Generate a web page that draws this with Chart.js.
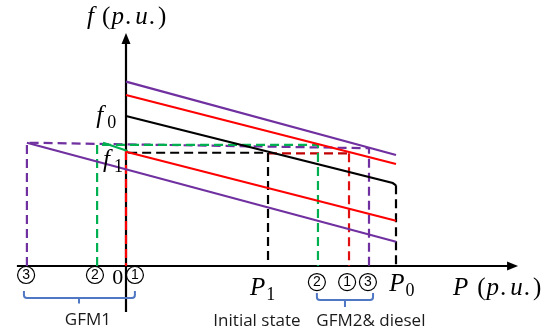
<!DOCTYPE html>
<html>
<head>
<meta charset="utf-8">
<script src="https://cdn.jsdelivr.net/npm/chart.js@4.4.0/dist/chart.umd.min.js"></script>
<style>
  html, body { margin: 0; padding: 0; background: #fff; }
  canvas { display: block; }
</style>
</head>
<body>
<canvas id="c" width="554" height="335"></canvas>
<script>
// ---- Data (P in p.u. of P0, f in p.u. of f0) ----
const droopP          = [0, 1.0];
const upperPurpleF    = [1.229, 0.740];
const upperRedF       = [1.140, 0.680];
const blackP          = [0, 0.988, 1.0];
const blackF          = [1.000, 0.553, 0.538];
const lowerRedF       = [0.762, 0.302];
const lowerPurpleP    = [-0.367, 1.0];
const lowerPurpleF    = [0.822, 0.162];
const greenSolidP     = [-0.085, 0.006];
const greenSolidF     = [0.822, 0.767];

const purpleDashP     = [-0.367, -0.367, 0.900, 0.900];
const purpleDashF     = [0, 0.822, 0.785, 0];
const greenDashP      = [-0.107, -0.107, 0.711, 0.711];
const greenDashF      = [0, 0.807, 0.807, 0];
const blackDashP1P    = [0.008, 0.526, 0.526];
const blackDashP1F    = [0.755, 0.755, 0];
const redDashHP       = [0.526, 0.826];
const redDashHF       = [0.751, 0.751];
const redDashVP       = [0.826, 0.826];
const redDashVF       = [0.751, 0];
const redDashAxisP    = [0, 0];
const redDashAxisF    = [0.767, 0];
const blackDashP0P    = [1.0, 1.0];
const blackDashP0F    = [0.538, 0];

const xAxisP = [-0.404, 1.43];
const xAxisF = [0, 0];
const yAxisP = [0, 0];
const yAxisF = [-0.307, 1.50];

// circled operating-point markers
const markerLabels = ['3', '2', '1', '2', '1', '3'];
const markerP      = [-0.370, -0.115, 0.033, 0.707, 0.819, 0.896];
const markerF      = [-0.060, -0.060, -0.060, -0.107, -0.107, -0.107];

// ---- helpers ----
function pts(xs, ys) { return xs.map((x, i) => ({ x: x, y: ys[i] })); }
const PURPLE = '#7030A0', RED = '#FF0000', DRED = '#C00000', GREEN = '#00B050', BLACK = '#000000', BLUE = '#4F77C3';
function solid(xs, ys, color, order) {
  return { data: pts(xs, ys), borderColor: color, borderWidth: 2.2, borderJoinStyle: 'miter', showLine: true, pointRadius: 0, fill: false, order: order };
}
function dashed(xs, ys, color, order) {
  return { data: pts(xs, ys), borderColor: color, borderWidth: 2.2, borderDash: [9, 5], borderJoinStyle: 'miter', showLine: true, pointRadius: 0, fill: false, order: order };
}

const datasets = [
  solid(xAxisP, xAxisF, BLACK, 10),
  solid(yAxisP, yAxisF, BLACK, 10),
  dashed(purpleDashP, purpleDashF, PURPLE, 6),
  dashed(greenDashP, greenDashF, GREEN, 5),
  dashed(blackDashP1P, blackDashP1F, BLACK, 5),
  dashed(redDashHP, redDashHF, DRED, 5),
  dashed(redDashVP, redDashVF, '#E01010', 5),
  dashed(redDashAxisP, redDashAxisF, RED, 4),
  dashed(blackDashP0P, blackDashP0F, BLACK, 5),
  solid(droopP, upperPurpleF, PURPLE, 2),
  solid(droopP, upperRedF, RED, 2),
  solid(blackP, blackF, BLACK, 2),
  solid(droopP, lowerRedF, RED, 2),
  solid(lowerPurpleP, lowerPurpleF, PURPLE, 2),
  solid(greenSolidP, greenSolidF, GREEN, 2)
];

// ---- annotation plugin (text, arrows, braces) ----
const annot = {
  id: 'annot',
  afterDatasetsDraw(chart) {
    const ctx = chart.ctx;
    const xs = chart.scales.x, ys = chart.scales.y;
    const X = v => xs.getPixelForValue(v), Y = v => ys.getPixelForValue(v);
    ctx.save();

    // arrow heads
    ctx.fillStyle = BLACK;
    let tx = X(1.452), ty = Y(0);
    ctx.beginPath(); ctx.moveTo(tx, ty); ctx.lineTo(tx - 11, ty - 4.5); ctx.lineTo(tx - 11, ty + 4.5); ctx.closePath(); ctx.fill();
    tx = X(0); ty = Y(1.553);
    ctx.beginPath(); ctx.moveTo(tx, ty); ctx.lineTo(tx - 4.5, ty + 11); ctx.lineTo(tx + 4.5, ty + 11); ctx.closePath(); ctx.fill();

    // math text
    const SERIF = "'Liberation Serif', 'DejaVu Serif', serif";
    function math(parts, x, y, size, gap) {
      ctx.textBaseline = 'middle';
      ctx.textAlign = 'left';
      let cx = x;
      parts.forEach(p => {
        const s = p.sub ? size * 0.72 : size;
        ctx.font = (p.it ? 'italic ' : '') + s + 'px ' + SERIF;
        const dy = p.sub ? size * 0.28 : 0;
        ctx.fillText(p.t, cx, y + dy);
        cx += ctx.measureText(p.t).width + (p.g !== undefined ? p.g : gap);
      });
    }
    ctx.fillStyle = BLACK;
    math([{t:'f', it:true, g:8}, {t:'(', g:1}, {t:'p', it:true, g:1}, {t:'.', g:4}, {t:'u', it:true, g:1}, {t:'.', g:3}, {t:')'}], X(-0.144), Y(1.66), 25, 2);
    math([{t:'f', it:true, g:4}, {t:'0', sub:true}], X(-0.110), Y(1.0), 25, 0);
    math([{t:'f', it:true, g:4}, {t:'1', sub:true}], X(-0.085), Y(0.705), 25, 0);
    math([{t:'P', it:true, g:1}, {t:'1', sub:true}], X(0.459), Y(-0.150), 25, 0);
    math([{t:'P', it:true, g:1}, {t:'0', sub:true}], X(0.975), Y(-0.122), 25, 0);
    math([{t:'P', it:true, g:9}, {t:'(', g:1}, {t:'p', it:true, g:1}, {t:'.', g:4}, {t:'u', it:true, g:1}, {t:'.', g:3}, {t:')'}], X(1.211), Y(-0.147), 25, 2);
    ctx.font = '22px ' + SERIF;
    ctx.textAlign = 'center'; ctx.textBaseline = 'middle';
    ctx.fillText('0', X(-0.031), Y(-0.082));

    // circled markers
    markerLabels.forEach((lab, i) => {
      const cx = X(markerP[i]), cy = Y(markerF[i]);
      ctx.beginPath(); ctx.arc(cx, cy, 8.5, 0, Math.PI * 2);
      ctx.lineWidth = 1.2; ctx.strokeStyle = BLACK; ctx.stroke();
      ctx.font = "14px 'Liberation Sans', sans-serif";
      ctx.textAlign = 'center'; ctx.textBaseline = 'middle';
      ctx.fillText(lab, cx, cy + 0.5);
    });

    // braces
    function brace(p1, p2, pm, fTop, fBar, fTip) {
      const x1 = X(p1), x2 = X(p2), xm = X(pm), yt = Y(fTop), yb = Y(fBar), yp = Y(fTip);
      const r = 3;
      ctx.beginPath();
      ctx.moveTo(x1, yt);
      ctx.lineTo(x1, yb - r);
      ctx.quadraticCurveTo(x1, yb, x1 + r, yb);
      ctx.lineTo(x2 - r, yb);
      ctx.quadraticCurveTo(x2, yb, x2, yb - r);
      ctx.lineTo(x2, yt);
      ctx.moveTo(xm, yb);
      ctx.lineTo(xm, yp);
      ctx.lineWidth = 2; ctx.strokeStyle = BLUE; ctx.stroke();
    }
    brace(-0.378, 0.033, -0.174, -0.167, -0.213, -0.250);
    brace(0.707, 0.915, 0.811, -0.180, -0.227, -0.273);

    ctx.fillStyle = '#1a1a1a';
    ctx.font = "17px 'Open Sans', 'Liberation Sans', sans-serif";
    ctx.textAlign = 'center'; ctx.textBaseline = 'middle';
    ctx.fillText('GFM1', X(-0.141), Y(-0.360));
    ctx.fillText('Initial state', X(0.485), Y(-0.367));
    ctx.fillText('GFM2& diesel', X(0.907), Y(-0.367));
    ctx.restore();
  }
};

new Chart(document.getElementById('c'), {
  type: 'scatter',
  data: { datasets: datasets },
  options: {
    responsive: false,
    animation: false,
    devicePixelRatio: 1,
    layout: { padding: 0 },
    plugins: { legend: { display: false }, tooltip: { enabled: false } },
    scales: {
      x: { type: 'linear', display: false, min: -126 / 270, max: 428 / 270 },
      y: { type: 'linear', display: false, min: -69 / 150, max: 266 / 150 }
    }
  },
  plugins: [annot]
});
</script>
</body>
</html>
